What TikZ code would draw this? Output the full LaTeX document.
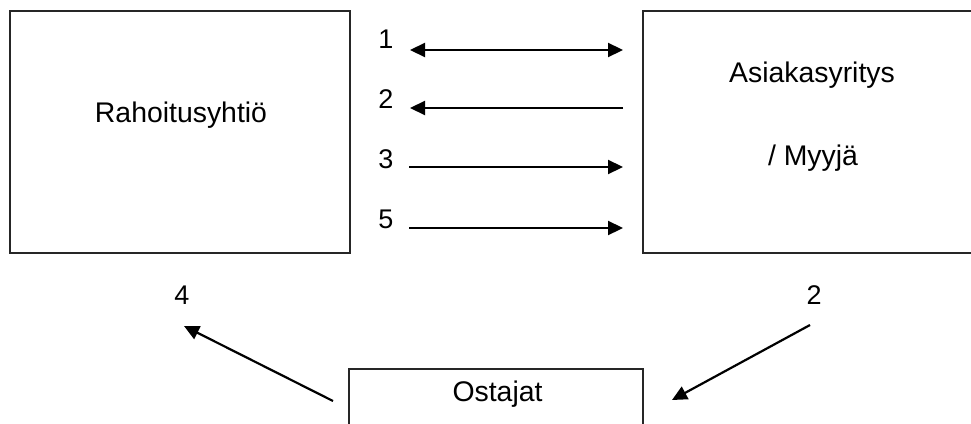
\documentclass[tikz,border=0pt]{standalone}
\usepackage{fontspec}
\setmainfont{Liberation Sans}
\usetikzlibrary{arrows.meta}
\begin{document}
\begin{tikzpicture}[x=1pt,y=-1pt,
  box/.style={draw=black!85, line width=1.4pt, inner sep=0pt},
  txt/.style={font=\fontsize{28.4}{34}\selectfont, inner sep=0pt, anchor=base},
  num/.style={font=\fontsize{27}{32}\selectfont, inner sep=0pt, anchor=base},
  tip/.style={Triangle[length=15pt,width=14pt]},
  flow/.style={line width=2.2pt, -{Triangle[length=15pt,width=14pt]}},
  both/.style={line width=2.2pt, {Triangle[length=15pt,width=14pt]}-{Triangle[length=15pt,width=14pt]}}]
\useasboundingbox (0,0) rectangle (971,423);
\clip (0,0) rectangle (971,423);
\fill[white] (0,0) rectangle (971,423);

% the three parties
\node[box, minimum width=340pt, minimum height=242pt] (rah) at (180,132) {};
\node[box, minimum width=337pt, minimum height=242pt] (asi) at (811.5,132) {};
\node[box, minimum width=294pt, minimum height=71pt] (ost) at (496,404.5) {};

\node[txt] (rahtxt) at (181,122) {Rahoitusyhtiö};
\node[txt] (asitxt) at (812,82) {Asiakasyritys};
\node[txt] (myytxt) at (813,165) {/ Myyjä};
\node[txt] (osttxt) at (497.5,401) {Ostajat};

% end points of the flows between the boxes
\coordinate (f1l) at (410,50);  \coordinate (f1r) at (623,50);
\coordinate (f2l) at (410,108); \coordinate (f2r) at (623,108);
\coordinate (f3l) at (409,167); \coordinate (f3r) at (623,167);
\coordinate (f5l) at (409,228); \coordinate (f5r) at (623,228);
\coordinate (f4s) at (333,401); \coordinate (f4e) at (184,326);
\coordinate (f6s) at (810,325); \coordinate (f6e) at (672,400);

% step numbers
\node[num] (n1) at (386,48) {1};
\node[num] (n2) at (386,108) {2};
\node[num] (n3) at (386,168) {3};
\node[num] (n5) at (386,228) {5};
\node[num] (n4) at (182,304) {4};
\node[num] (n6) at (814,304) {2};

% flows
\draw[both] (f1l) -- (f1r);
\draw[flow] (f2r) -- (f2l);
\draw[flow] (f3l) -- (f3r);
\draw[flow] (f5l) -- (f5r);
\draw[flow] (f4s) -- (f4e);
\draw[flow] (f6s) -- (f6e);
\end{tikzpicture}
\end{document}
